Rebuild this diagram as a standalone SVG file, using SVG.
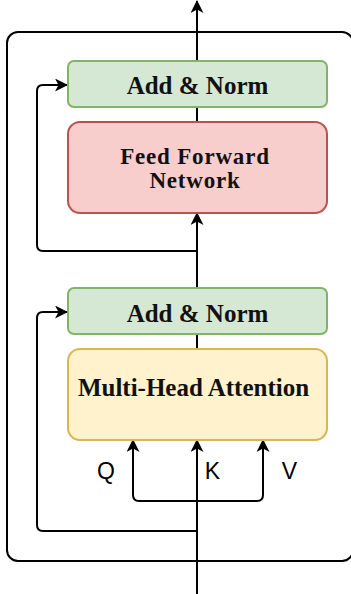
<svg xmlns="http://www.w3.org/2000/svg" width="351" height="594" viewBox="0 0 351 594">
<style>
.ln{fill:none;stroke:#000;stroke-width:2;}
.ar{fill:none;stroke:#000;stroke-width:2;marker-end:url(#arr);}
.t{font-family:"Liberation Serif","Times New Roman",serif;font-weight:bold;font-size:25px;fill:#111;text-anchor:middle;}
.f{font-size:23px;letter-spacing:0.8px;}
.s{font-family:"Liberation Sans",Arial,sans-serif;font-size:23px;fill:#000;text-anchor:middle;}
.g{fill:#d5e8d4;stroke:#82b366;stroke-width:2;}
</style>
<defs>
<marker id="arr" viewBox="0 0 13 13" refX="12" refY="6.5" markerWidth="13" markerHeight="13" markerUnits="userSpaceOnUse" orient="auto">
<path d="M0,0 L13,6.5 L0,13 L3.5,6.5 Z" fill="#000"/>
</marker>
</defs>
<rect x="7" y="32" width="346" height="529" rx="11" class="ln"/>
<g id="connectors">
<path class="ar" d="M197,594 V440"/>
<path class="ln" d="M197,349 V334"/>
<path class="ar" d="M197,288 V213"/>
<path class="ln" d="M197,122 V107"/>
<path class="ar" d="M197,61 V1"/>
<path class="ar" d="M197,251 H43 Q37,251 37,245 V91 Q37,85 43,85 H67"/>
<path class="ar" d="M197,531 H43 Q37,531 37,525 V318 Q37,312 43,312 H67"/>
<path class="ar" d="M197,501 H139 Q133,501 133,495 V440"/>
<path class="ar" d="M197,501 H257 Q263,501 263,495 V440"/>
</g>
<g id="addnorm2"><rect x="68" y="61" width="259" height="46" rx="6" class="g"/><text x="197.5" y="94" class="t">Add &amp; Norm</text></g>
<g id="ffn"><rect x="68" y="122" width="259" height="91" rx="12" fill="#f8cecc" stroke="#b85450" stroke-width="2"/><text x="195" y="164" class="t f">Feed Forward</text><text x="195" y="188" class="t f">Network</text></g>
<g id="addnorm1"><rect x="68" y="288" width="259" height="46" rx="6" class="g"/><text x="197.5" y="322" class="t">Add &amp; Norm</text></g>
<g id="mha"><rect x="68" y="349" width="259" height="91" rx="12" fill="#fff2cc" stroke="#d6b656" stroke-width="2"/><text x="193.5" y="396" class="t">Multi-Head Attention</text></g>
<g id="labels"><text x="106" y="479" class="s">Q</text><text x="212.5" y="479" class="s">K</text><text x="289.5" y="479" class="s">V</text></g>
</svg>
